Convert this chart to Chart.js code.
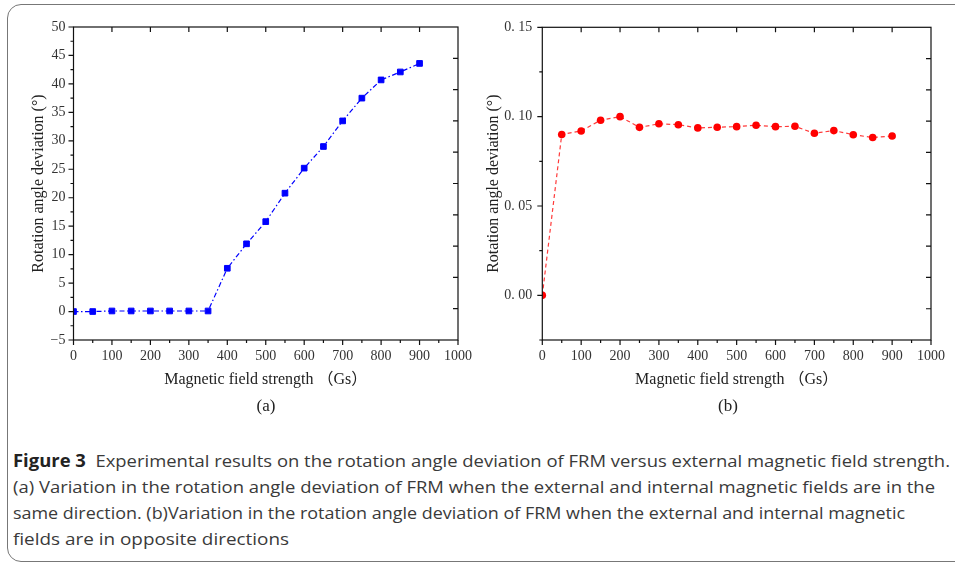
<!DOCTYPE html>
<html>
<head>
<meta charset="utf-8">
<script src="https://cdn.jsdelivr.net/npm/chart.js@4"></script>
<style>
  body { margin: 0; background: #fff; width: 955px; height: 566px; overflow: hidden; position: relative; font-family: "Open Sans", sans-serif; }
  .frame { position: absolute; left: 7px; top: 4px; width: 990px; height: 558px; border: 1.3px solid #777; border-radius: 14px; box-sizing: border-box; }
  canvas { position: absolute; top: 0; }
  #chartA { left: 0; }
  #chartB { left: 475px; }
  .sub { position: absolute; top: 396px; width: 60px; text-align: center; font: 17px "Liberation Serif", serif; color: #222; }
  .cap { position: absolute; left: 13px; height: 26px; line-height: 26px; font-size: 17px; color: #3a3a3a; white-space: nowrap; transform-origin: 0 50%; }
  .cap b { color: #222; }
</style>
</head>
<body>
<div class="frame"></div>
<canvas id="chartA" width="480" height="400"></canvas>
<canvas id="chartB" width="480" height="400"></canvas>
<div class="sub" style="left:236px">(a)</div>
<div class="sub" style="left:698px">(b)</div>
<div class="cap" style="top:448px" data-w="937"><b>Figure 3</b>&nbsp; Experimental results on the rotation angle deviation of FRM versus external magnetic field strength.</div>
<div class="cap" style="top:474px" data-w="922">(a) Variation in the rotation angle deviation of FRM when the external and internal magnetic fields are in the</div>
<div class="cap" style="top:500px" data-w="892">same direction. (b)Variation in the rotation angle deviation of FRM when the external and internal magnetic</div>
<div class="cap" style="top:526px" data-w="276">fields are in opposite directions</div>

<script>
// data
const fieldStrength = [0, 50, 100, 150, 200, 250, 300, 350, 400, 450, 500, 550, 600, 650, 700, 750, 800, 850, 900];
const deviationSame = [0, 0, 0.1, 0.1, 0.1, 0.1, 0.1, 0.1, 7.6, 11.9, 15.8, 20.8, 25.2, 29.0, 33.5, 37.5, 40.7, 42.1, 43.6];
const deviationOpposite = [0, 0.090, 0.092, 0.098, 0.100, 0.094, 0.096, 0.0955, 0.0937, 0.0941, 0.0944, 0.0952, 0.0944, 0.0946, 0.0907, 0.0922, 0.0899, 0.0883, 0.0892];

// ticks
const xTicks = [0, 100, 200, 300, 400, 500, 600, 700, 800, 900, 1000];
const xMinor = [50, 150, 250, 350, 450, 550, 650, 750, 850, 950];
const yTicksA = [-5, 0, 5, 10, 15, 20, 25, 30, 35, 40, 45, 50];
const yMinorA = [-2.5, 2.5, 7.5, 12.5, 17.5, 22.5, 27.5, 32.5, 37.5, 42.5, 47.5];
const yTicksB = [0, 0.05, 0.10, 0.15];
const yTickLabelsB = ['0. 00', '0. 05', '0. 10', '0. 15'];
const yMinorB = [-0.025, 0.025, 0.075, 0.125];
const rightTicks = [1, 2, 3, 4, 5, 6, 7, 8, 9];

const xTitle = 'Magnetic field strength \uFF08Gs\uFF09';
const yTitle = 'Rotation angle deviation (\u00B0)';

const serif = '"Liberation Serif", "DejaVu Serif", "Noto Sans CJK SC", serif';

// box frame + Origin style ticks
const frameTicks = {
  id: 'frameTicks',
  afterDatasetsDraw(chart, args, o) {
    const { ctx, chartArea: a, scales } = chart;
    const x = scales.x, y = scales.y, r = scales.yR;
    ctx.save();
    ctx.strokeStyle = '#111';
    ctx.lineWidth = 1.2;
    ctx.strokeRect(a.left, a.top, a.right - a.left, a.bottom - a.top);
    ctx.beginPath();
    const seg = (x0, y0, x1, y1) => { ctx.moveTo(x0, y0); ctx.lineTo(x1, y1); };
    xTicks.forEach(v => {
      const p = x.getPixelForValue(v);
      seg(p, a.bottom, p, a.bottom + 5);
      if (v > 0 && v < 1000) seg(p, a.top, p, a.top + 5);
    });
    xMinor.forEach(v => { const p = x.getPixelForValue(v); seg(p, a.bottom, p, a.bottom + 3); });
    o.yMajor.forEach(v => { const p = y.getPixelForValue(v); seg(a.left - 5, p, a.left, p); });
    o.yMinor.forEach(v => { const p = y.getPixelForValue(v); seg(a.left - 3, p, a.left, p); });
    rightTicks.forEach(v => { const p = r.getPixelForValue(v); seg(a.right - 5, p, a.right, p); });
    ctx.stroke();
    ctx.restore();
  }
};

function makeChart(el, cfg) {
  return new Chart(el, {
    type: 'line',
    data: {
      datasets: [{
        data: fieldStrength.map((f, i) => ({ x: f, y: cfg.values[i] })),
        ...cfg.style,
        fill: false,
        clip: 0
      }]
    },
    options: {
      responsive: false,
      animation: false,
      layout: { padding: cfg.padding },
      plugins: { legend: { display: false }, tooltip: { enabled: false }, frameTicks: { yMajor: cfg.yMajor, yMinor: cfg.yMinor } },
      scales: {
        x: {
          type: 'linear', min: 0, max: 1000,
          afterBuildTicks: s => { s.ticks = xTicks.map(v => ({ value: v })); },
          afterFit: s => { s.height = 60; },
          grid: { display: false, drawTicks: false },
          border: { display: false },
          ticks: { padding: 8, color: '#333', font: { family: serif, size: 14 }, maxRotation: 0, autoSkip: false, callback: v => String(v) },
          title: { display: true, text: xTitle, color: '#222', font: { family: serif, size: 16 }, padding: { top: 0, bottom: 11 } }
        },
        y: {
          min: cfg.yMin, max: cfg.yMax,
          afterBuildTicks: s => { s.ticks = cfg.yMajor.map(v => ({ value: v })); },
          afterFit: s => { s.width = cfg.yWidth; },
          grid: { display: false, drawTicks: false },
          border: { display: false },
          ticks: { padding: cfg.yPad, color: '#333', font: { family: serif, size: 14 }, autoSkip: false, callback: cfg.yLabel },
          title: { display: true, text: yTitle, color: '#222', font: { family: serif, size: 16 }, padding: { top: cfg.yTitlePad, bottom: 0 } }
        },
        yR: { position: 'right', display: false, min: 0, max: 10 }
      }
    },
    plugins: [frameTicks]
  });
}

makeChart(document.getElementById('chartA'), {
  values: deviationSame,
  style: {
    borderColor: '#0000ff', borderWidth: 1.2, borderDash: [5, 2.5, 1.5, 2.5],
    pointStyle: 'rect', pointRadius: 4, pointBackgroundColor: '#0000ff', pointBorderColor: '#0000ff', pointBorderWidth: 1
  },
  padding: { top: 27, right: 18.3, left: 0, bottom: 0 },
  yMin: -5, yMax: 50, yMajor: yTicksA, yMinor: yMinorA,
  yWidth: 73.5, yPad: 8, yTitlePad: 29,
  yLabel: v => (v < 0 ? '\u22125' : String(v))
});

makeChart(document.getElementById('chartB'), {
  values: deviationOpposite,
  style: {
    borderColor: '#ff3a3a', borderWidth: 1.2, borderDash: [4, 3],
    pointStyle: 'circle', pointRadius: 3.8, pointBackgroundColor: '#ff0000', pointBorderColor: '#ff0000', pointBorderWidth: 0
  },
  padding: { top: 27.3, right: 24, left: 0, bottom: 0 },
  yMin: -0.025, yMax: 0.15, yMajor: yTicksB, yMinor: yMinorB,
  yWidth: 67.3, yPad: 10, yTitlePad: 9,
  yLabel: (v, i) => yTickLabelsB[i]
});

// squeeze caption lines to the condensed widths of the original
document.querySelectorAll('.cap').forEach(el => {
  const w = el.getBoundingClientRect().width;
  el.style.transform = 'scaleX(' + (+el.dataset.w / w) + ')';
});
</script>
</body>
</html>
